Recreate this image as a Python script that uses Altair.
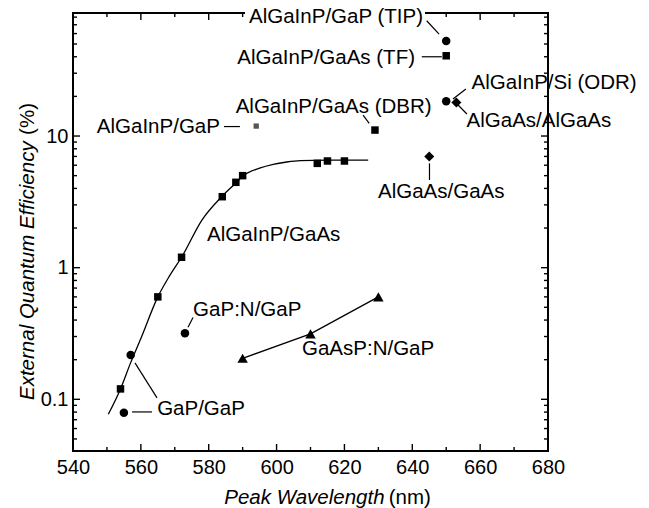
import altair as alt
import pandas as pd

# ---------------- data (peak wavelength in nm, external quantum efficiency in %) ----------------
sq_nm = [554, 565, 572, 584, 588, 590, 612, 615, 620, 629, 650]
sq_eqe = [0.12, 0.60, 1.2, 3.46, 4.45, 5.0, 6.2, 6.46, 6.46, 11.1, 40.7]
ci_nm = [555, 557, 573, 650, 650]
ci_eqe = [0.079, 0.217, 0.318, 52.6, 18.4]
tri_nm = [590, 610, 630]
tri_eqe = [0.205, 0.314, 0.60]
dia_nm = [645, 653]
dia_eqe = [7.0, 18.0]
gap_nm = [594]
gap_eqe = [11.9]
fit_nm = [550.4, 554, 557, 560, 565, 568.5, 572, 578, 584, 588, 590, 595, 599, 603, 607, 615, 627]
fit_eqe = [0.077, 0.12, 0.19, 0.29, 0.60, 0.87, 1.2, 2.3, 3.5, 4.4, 4.95, 5.7, 6.1, 6.35, 6.5, 6.55, 6.55]

# annotation labels (anchor in data units)
labL_text = ["AlGaInP/Si (ODR)", "AlGaAs/AlGaAs", "AlGaAs/GaAs", "AlGaInP/GaAs",
             "GaP:N/GaP", "GaAsP:N/GaP", "GaP/GaP"]
labL_nm = [657.45, 656.0, 629.9, 579.5, 575.4, 607.5, 564.8]
labL_eqe = [22.75, 11.7, 3.38, 1.595, 0.43, 0.2155, 0.0762]
labR_text = ["AlGaInP/GaP (TIP)", "AlGaInP/GaAs (TF)", "AlGaInP/GaAs (DBR)", "AlGaInP/GaP"]
labR_nm = [643.15, 640.8, 645.7, 583.3]
labR_eqe = [72.5, 35.2, 15.03, 10.54]

# leader lines
ld_nm1 = [644.25, 642.8, 625.5, 584.5, 655.8, 653.2, 645.07, 575.37, 557.4, 558.27]
ld_eqe1 = [75.1, 40.0, 14.4, 11.8, 22.75, 17.5, 6.2, 0.4188, 0.0802, 0.189]
ld_nm2 = [647.9, 648.7, 627.3, 589.2, 652.0, 656.1, 645.07, 573.9, 563.3, 564.76]
ld_eqe2 = [59.5, 40.0, 12.5, 11.8, 19.1, 14.7, 4.63, 0.3527, 0.0802, 0.1025]

# white box behind the top label (it interrupts the frame)
box_nm = [590.7, 643.75]
box_eqe = [74.7, 98.8]

# axes
x_labels = [540, 560, 580, 600, 620, 640, 660, 680]
x_major = [560, 580, 600, 620, 640, 660]
x_minor = [550, 570, 590, 610, 630, 650, 670]
y_labels = [0.1, 1, 10]
y_major = [0.1, 1, 10]
y_minor = [0.05, 0.06, 0.07, 0.08, 0.09,
           0.2, 0.3, 0.4, 0.5, 0.6, 0.7, 0.8, 0.9,
           2, 3, 4, 5, 6, 7, 8, 9,
           20, 30, 40, 50, 60, 70, 80]

FONT = "Liberation Sans"
W, H = 475, 438
MAJ, MIN = 7, 4

xs = alt.Scale(domain=[540, 680], nice=False, zero=False)
ys = alt.Scale(type="log", domain=[0.0405, 86], nice=False)

xax = alt.Axis(values=x_labels, ticks=False, domain=False, grid=False, labelFont=FONT,
               labelFontSize=20, labelPadding=6, labelColor="black", title=None,
               labelFlush=False, labelOverlap=False)
yax = alt.Axis(values=y_labels, format="~g", ticks=False, domain=False, grid=False,
               labelFont=FONT, labelFontSize=20, labelPadding=5, labelColor="black",
               title=None, labelOverlap=False)


def X(f="nm"):
    return alt.X(f"{f}:Q", scale=xs, axis=xax)


def Y(f="eqe"):
    return alt.Y(f"{f}:Q", scale=ys, axis=yax)


dummy = pd.DataFrame({"a": [0]})
layers = []

# frame
frame = alt.Chart(dummy).mark_rule(color="black", strokeWidth=2, strokeCap="square")
layers += [
    frame.encode(x=alt.value(0), x2=alt.value(W), y=alt.value(0)),
    frame.encode(x=alt.value(0), x2=alt.value(W), y=alt.value(H)),
    frame.encode(x=alt.value(0), y=alt.value(0), y2=alt.value(H)),
    frame.encode(x=alt.value(W), y=alt.value(0), y2=alt.value(H)),
]

# inward ticks
def xticks(vals, ln):
    d = pd.DataFrame({"nm": vals})
    base = alt.Chart(d).mark_rule(color="black", strokeWidth=1.4)
    return [base.encode(x=X(), y=alt.value(H), y2=alt.value(H - ln)),
            base.encode(x=X(), y=alt.value(0), y2=alt.value(ln))]


def yticks(vals, ln):
    d = pd.DataFrame({"eqe": vals})
    base = alt.Chart(d).mark_rule(color="black", strokeWidth=1.4)
    return [base.encode(y=Y(), x=alt.value(0), x2=alt.value(ln)),
            base.encode(y=Y(), x=alt.value(W), x2=alt.value(W - ln))]


layers += xticks(x_major, MAJ) + xticks(x_minor, MIN) + yticks(y_major, MAJ) + yticks(y_minor, MIN)

# white box
box = pd.DataFrame({"x1": [box_nm[0]], "x2": [box_nm[1]], "y1": [box_eqe[0]], "y2": [box_eqe[1]]})
layers.append(alt.Chart(box).mark_rect(color="white").encode(
    x=X("x1"), x2="x2:Q", y=Y("y1"), y2="y2:Q"))

# fitted curve
fit = pd.DataFrame({"nm": fit_nm, "eqe": fit_eqe})
layers.append(alt.Chart(fit).mark_line(color="black", strokeWidth=1.3, interpolate="monotone").encode(
    x=X(), y=Y()))

# GaAsP:N line
tri = pd.DataFrame({"nm": tri_nm, "eqe": tri_eqe})
layers.append(alt.Chart(tri).mark_line(color="black", strokeWidth=1.3).encode(x=X(), y=Y()))

# leaders
ld = pd.DataFrame({"x1": ld_nm1, "y1": ld_eqe1, "x2": ld_nm2, "y2": ld_eqe2})
layers.append(alt.Chart(ld).mark_rule(color="black", strokeWidth=1.2).encode(
    x=X("x1"), x2="x2:Q", y=Y("y1"), y2="y2:Q"))

# markers
sq = pd.DataFrame({"nm": sq_nm, "eqe": sq_eqe})
layers.append(alt.Chart(sq).mark_point(shape="square", filled=True, size=56, color="black",
                                       opacity=1).encode(x=X(), y=Y()))
ci = pd.DataFrame({"nm": ci_nm, "eqe": ci_eqe})
layers.append(alt.Chart(ci).mark_point(shape="circle", filled=True, size=72, color="black",
                                       opacity=1).encode(x=X(), y=Y()))
layers.append(alt.Chart(tri).mark_point(shape="triangle-up", filled=True, size=110, color="black",
                                        opacity=1).encode(x=X(), y=Y()))
dia = pd.DataFrame({"nm": dia_nm, "eqe": dia_eqe})
layers.append(alt.Chart(dia).mark_point(shape="diamond", filled=True, size=100, color="black",
                                        opacity=1).encode(x=X(), y=Y()))
gp = pd.DataFrame({"nm": gap_nm, "eqe": gap_eqe})
layers.append(alt.Chart(gp).mark_point(shape="square", filled=True, size=28, color="#555555",
                                       opacity=1).encode(x=X(), y=Y()))

# labels
lL = pd.DataFrame({"t": labL_text, "nm": labL_nm, "eqe": labL_eqe})
layers.append(alt.Chart(lL).mark_text(align="left", baseline="alphabetic", font=FONT,
                                      fontSize=20.5, color="black").encode(
    x=X(), y=Y(), text="t:N"))
lR = pd.DataFrame({"t": labR_text, "nm": labR_nm, "eqe": labR_eqe})
layers.append(alt.Chart(lR).mark_text(align="right", baseline="alphabetic", font=FONT,
                                      fontSize=20.5, color="black").encode(
    x=X(), y=Y(), text="t:N"))

# axis titles (italic part + plain unit)
tt = alt.Chart(dummy)
layers += [
    tt.mark_text(text="Peak Wavelength", align="left", baseline="alphabetic", font=FONT,
                 fontSize=20.5, fontStyle="italic", color="black").encode(
        x=alt.value(151.3), y=alt.value(490.5)),
    tt.mark_text(text="(nm)", align="right", baseline="alphabetic", font=FONT,
                 fontSize=20.5, color="black").encode(
        x=alt.value(357.9), y=alt.value(490.5)),
    tt.mark_text(text="External Quantum Efficiency", align="left", baseline="alphabetic",
                 font=FONT, fontSize=20.5, fontStyle="italic", color="black", angle=270).encode(
        x=alt.value(-39), y=alt.value(387)),
    tt.mark_text(text="(%)", align="right", baseline="alphabetic", font=FONT,
                 fontSize=20.5, color="black", angle=270).encode(
        x=alt.value(-39), y=alt.value(90)),
]

chart = alt.layer(*layers).properties(
    width=W, height=H,
    autosize=alt.AutoSizeParams(type="none"),
    padding={"left": 73, "top": 13, "right": 101, "bottom": 57},
    background="white",
).configure_view(stroke=None)

chart.save("out.html", embed_options={"renderer": "svg", "actions": False})
